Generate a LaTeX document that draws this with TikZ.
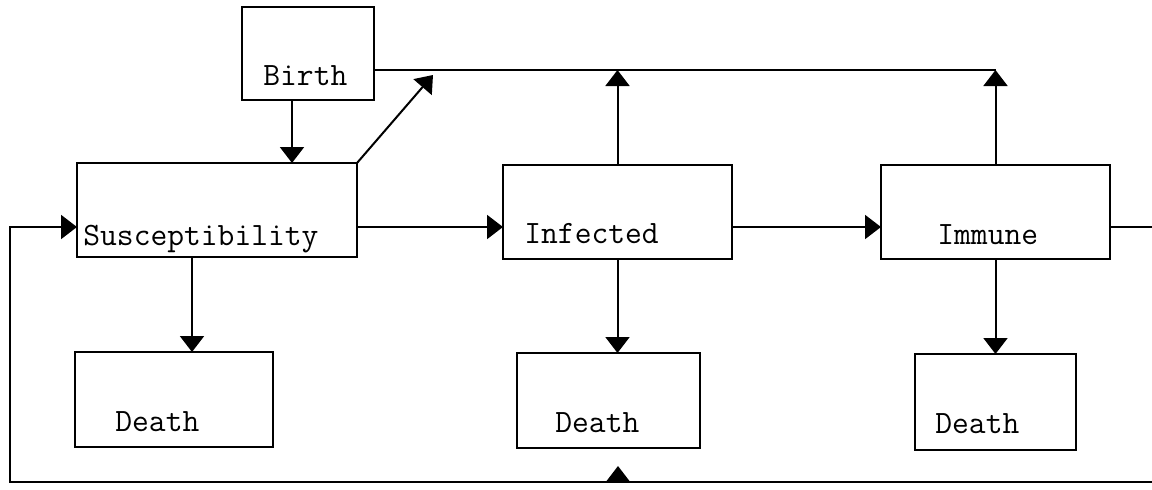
\documentclass[tikz,border=0pt]{standalone}
\usetikzlibrary{arrows.meta,calc}
\begin{document}
\begin{tikzpicture}[x=0.5pt,y=-0.5pt,
  box/.style={draw,line width=1pt,inner sep=0pt,outer sep=0pt},
  conn/.style={line width=1pt},
  arr/.style={line width=1pt,-{Triangle[length=8pt,width=12pt]}},
  lbl/.style={font=\fontsize{16.3}{19}\selectfont\ttfamily,anchor=base west,inner sep=0pt}]
\useasboundingbox (0,0) rectangle (1152,489);
% boxes
\node[box,minimum width=66pt,minimum height=46.5pt] (birth) at (308,53.5) {};
\node[box,minimum width=140pt,minimum height=47pt] (susc) at (217,210) {};
\node[box,minimum width=114.5pt,minimum height=47pt] (infected) at (617.5,212) {};
\node[box,minimum width=114.5pt,minimum height=47pt] (immune) at (995.5,212) {};
\node[box,minimum width=99pt,minimum height=47.5pt] (death1) at (174,399.5) {};
\node[box,minimum width=91.5pt,minimum height=47.5pt] (death2) at (608.5,400.5) {};
\node[box,minimum width=80.5pt,minimum height=48pt] (death3) at (995.5,402) {};
% labels
\node[lbl] (tbirth) at (263,85) {Birth};
\node[lbl] (tsusc) at (83,245) {Susceptibility};
\node[lbl] (tinf) at (524,243) {Infected};
\node[lbl] (timm) at (937,244) {Immune};
\node[lbl] (td1) at (115,431) {Death};
\node[lbl] (td2) at (555,432) {Death};
\node[lbl] (td3) at (935,433) {Death};
% helper coordinates
\coordinate (topR) at (995.5,70);
\coordinate (row) at (0,227);
\coordinate (bx) at (292,0);
\coordinate (dx1) at (192,0);
\coordinate (diagTip) at (433,75);
\coordinate (loopR) at (1170,227);
\coordinate (loopL) at (10,482);
\coordinate (midB) at (618,482);
% connectors
\draw[conn] (birth.east |- topR) -- (topR);
\draw[arr] (immune.north) -- (topR);
\draw[arr] (infected.north) -- (infected.north |- topR);
\draw[arr] (susc.north east) -- (diagTip);
\draw[arr] (birth.south -| bx) -- (susc.north -| bx);
\draw[arr] (susc.east |- row) -- (infected.west |- row);
\draw[arr] (infected.east |- row) -- (immune.west |- row);
\draw[arr] (immune.east |- row) -- (loopR) |- (loopL) |- (susc.west |- row);
\draw[arr] (midB) -- ++(0,-16);
\draw[arr] (susc.south -| dx1) -- (death1.north -| dx1);
\draw[arr] (infected.south) -- (infected.south |- death2.north);
\draw[arr] (immune.south) -- (death3.north);
\end{tikzpicture}
\end{document}
